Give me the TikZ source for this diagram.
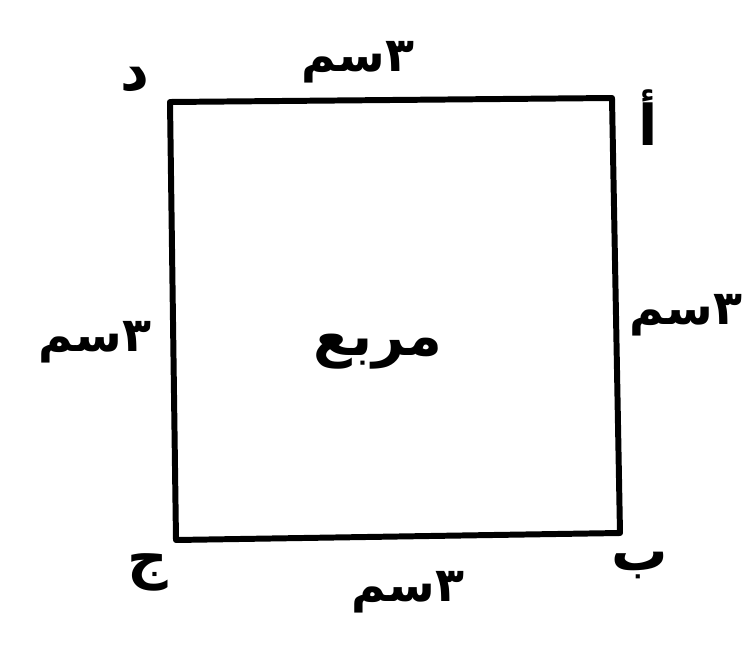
\documentclass[tikz,border=0pt]{standalone}
\usepackage{fontspec}
\newfontfamily\arabicfont[Script=Arabic]{DejaVu Sans}
\TeXXeTstate=1
\newcommand{\artext}[1]{{\arabicfont\bfseries\beginR #1\endR}}
\tikzset{
  sidelbl/.style={font=\fontsize{27}{31}\selectfont,inner sep=0pt},
  cornerlbl/.style={font=\fontsize{32}{36}\selectfont},
}

\begin{document}
\begin{tikzpicture}[x=0.02cm,y=-0.02cm]
\useasboundingbox (0,0) rectangle (745,646);
% corners of the square
\coordinate (D) at (170,102);
\coordinate (A) at (612,98);
\coordinate (B) at (620,533);
\coordinate (J) at (176,540);
\draw[line width=3.4pt,line join=round] (D) -- (A) -- (B) -- (J) -- cycle;
% corner letters
\node[cornerlbl] (lA) at (648,118) {\artext{أ}};
\node[cornerlbl] (lB) at (640,565) {\artext{ب}};
\node[cornerlbl] (lJ) at (148,572) {\artext{ج}};
\node[cornerlbl] (lD) at (135,80) {\artext{د}};
% side lengths
\node[sidelbl] (top) at (358,62) {\artext{٣سم}};
\node[sidelbl] (right) at (686,315) {\artext{٣سم}};
\node[sidelbl] (left) at (95,342) {\artext{٣سم}};
\node[sidelbl] (bottom) at (408,592) {\artext{٣سم}};
% name of the shape
\node[font=\fontsize{32}{36}\selectfont] (name) at (378,352) {\artext{مربع}};
\end{tikzpicture}
\end{document}
